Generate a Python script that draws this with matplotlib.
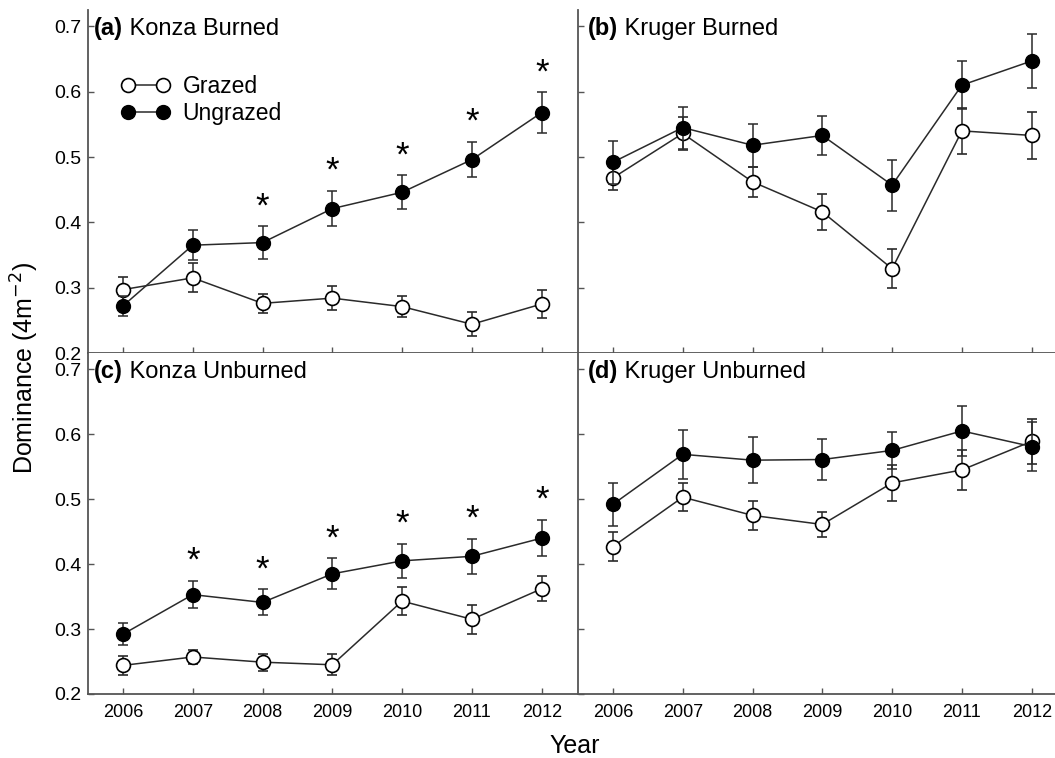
import matplotlib
matplotlib.use("Agg")
import matplotlib.pyplot as plt
from matplotlib.lines import Line2D

plt.rcParams["font.family"] = ["Liberation Sans", "DejaVu Sans"]

years = [2006, 2007, 2008, 2009, 2010, 2011, 2012]

# (a) Konza Burned
konza_b_grazed = [0.297, 0.315, 0.276, 0.284, 0.271, 0.244, 0.275]
konza_b_grazed_se = [0.019, 0.022, 0.015, 0.018, 0.016, 0.018, 0.022]
konza_b_ungrazed = [0.272, 0.365, 0.369, 0.421, 0.446, 0.496, 0.568]
konza_b_ungrazed_se = [0.016, 0.023, 0.025, 0.027, 0.026, 0.027, 0.031]
konza_b_sig = [2008, 2009, 2010, 2011, 2012]

# (b) Kruger Burned
kruger_b_grazed = [0.468, 0.536, 0.462, 0.416, 0.329, 0.540, 0.533]
kruger_b_grazed_se = [0.019, 0.025, 0.023, 0.028, 0.030, 0.035, 0.036]
kruger_b_ungrazed = [0.492, 0.545, 0.518, 0.533, 0.457, 0.610, 0.647]
kruger_b_ungrazed_se = [0.033, 0.032, 0.033, 0.030, 0.039, 0.037, 0.041]
kruger_b_sig = []

# (c) Konza Unburned
konza_u_grazed = [0.244, 0.257, 0.249, 0.245, 0.343, 0.315, 0.362]
konza_u_grazed_se = [0.014, 0.011, 0.013, 0.016, 0.021, 0.022, 0.019]
konza_u_ungrazed = [0.292, 0.353, 0.341, 0.385, 0.405, 0.412, 0.440]
konza_u_ungrazed_se = [0.017, 0.021, 0.020, 0.024, 0.026, 0.027, 0.028]
konza_u_sig = [2007, 2008, 2009, 2010, 2011, 2012]

# (d) Kruger Unburned
kruger_u_grazed = [0.427, 0.503, 0.475, 0.461, 0.525, 0.545, 0.589]
kruger_u_grazed_se = [0.022, 0.022, 0.022, 0.019, 0.028, 0.031, 0.035]
kruger_u_ungrazed = [0.492, 0.569, 0.560, 0.561, 0.575, 0.605, 0.581]
kruger_u_ungrazed_se = [0.033, 0.038, 0.035, 0.031, 0.029, 0.039, 0.037]
kruger_u_sig = []

panels = [
    ("(a)", "Konza Burned", konza_b_grazed, konza_b_grazed_se, konza_b_ungrazed, konza_b_ungrazed_se, konza_b_sig),
    ("(b)", "Kruger Burned", kruger_b_grazed, kruger_b_grazed_se, kruger_b_ungrazed, kruger_b_ungrazed_se, kruger_b_sig),
    ("(c)", "Konza Unburned", konza_u_grazed, konza_u_grazed_se, konza_u_ungrazed, konza_u_ungrazed_se, konza_u_sig),
    ("(d)", "Kruger Unburned", kruger_u_grazed, kruger_u_grazed_se, kruger_u_ungrazed, kruger_u_ungrazed_se, kruger_u_sig),
]

W, H = 1055, 758
fig = plt.figure(figsize=(W / 100, H / 100), dpi=100)

# axes boxes in pixels: left, top, width, height
boxes = [(88, 10, 490, 343), (578, 10, 490, 343), (88, 353, 490, 341), (578, 353, 490, 341)]

line_col = "#2a2a2a"
spine_col = "#555555"

for i, (tag, name, g, g_se, u, u_se, sig) in enumerate(panels):
    l, t, w, h = boxes[i]
    ax = fig.add_axes([l / W, 1 - (t + h) / H, w / W, h / H])

    ax.errorbar(years, g, yerr=g_se, fmt="o-", color=line_col, lw=1.1,
                mfc="white", mec="black", mew=1.2, ms=10, capsize=3.5,
                elinewidth=1.1, capthick=1.1, zorder=2)
    ax.errorbar(years, u, yerr=u_se, fmt="o-", color=line_col, lw=1.1,
                mfc="black", mec="black", ms=10, capsize=3.5,
                elinewidth=1.1, capthick=1.1, zorder=3)

    for yr in sig:
        k = years.index(yr)
        ax.text(yr, u[k] + u_se[k] + 0.03, "*", ha="center", va="center",
                fontsize=25)

    ax.set_xlim(2005.5, 2012.52)
    ax.set_ylim(0.2, 0.725)
    ax.set_xticks(years)
    ax.set_yticks([0.2, 0.3, 0.4, 0.5, 0.6, 0.7])
    ax.tick_params(direction="in", length=4, width=1, color=spine_col)
    ax.tick_params(axis="x", pad=7, labelsize=13)
    ax.tick_params(axis="y", pad=5, labelsize=14)
    for s in ["top", "right"]:
        ax.spines[s].set_visible(False)
    for s in ["left", "bottom"]:
        ax.spines[s].set_color(spine_col)
        ax.spines[s].set_linewidth(1.3)

    if i % 2 == 0:
        ax.set_yticklabels(["0.2", "0.3", "0.4", "0.5", "0.6", "0.7"])
    else:
        ax.set_yticklabels([])
    if i < 2:
        ax.set_xticklabels([])
    else:
        ax.set_xticklabels([str(y) for y in years])

    t1 = ax.text(0.012 if i % 2 == 0 else 0.02, 0.7, tag, fontsize=17,
                 fontweight="bold", ha="left", va="center_baseline",
                 transform=ax.get_yaxis_transform())
    ax.annotate(" " + name, xy=(1, 0.5), xycoords=t1, ha="left",
                va="center", fontsize=17)

    if i == 0:
        handles = [
            Line2D([], [], color=line_col, lw=1.1, marker="o", ms=10,
                   mfc="white", mec="black", mew=1.2),
            Line2D([], [], color=line_col, lw=1.1, marker="o", ms=10,
                   mfc="black", mec="black"),
        ]
        ax.legend(handles, ["Grazed", "Ungrazed"], loc="upper left",
                  bbox_to_anchor=(0.067, 0.81), frameon=False, numpoints=2,
                  handlelength=2.15, handletextpad=0.55, labelspacing=0.15,
                  fontsize=16.5, borderpad=0, borderaxespad=0)

fig.text(25 / W, 0.515, "Dominance (4m$^{-2}$)", rotation=90, ha="center",
         va="center", fontsize=18)
fig.text(575 / W, 12 / H, "Year", ha="center", va="center", fontsize=18)

fig.savefig("out.png", dpi=100)
